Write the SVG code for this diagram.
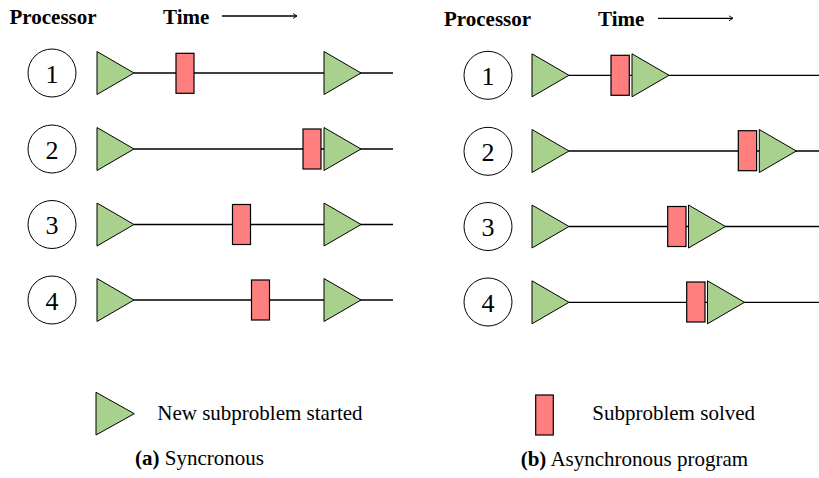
<svg xmlns="http://www.w3.org/2000/svg" width="819" height="478" viewBox="0 0 819 478">
<style>
.tri{fill:#A9D18E;stroke:#000;stroke-width:1;stroke-linejoin:miter}
.box{fill:#FF7F7F;stroke:#000;stroke-width:1.2}
.circ{fill:#fff;stroke:#000;stroke-width:1}
.ln{stroke:#000;stroke-width:1.3;fill:none}
.hd{font-family:"Liberation Serif","Times New Roman",serif;font-weight:bold;font-size:21px;fill:#000}
.num{font-family:"Liberation Serif","Times New Roman",serif;font-size:26px;fill:#000;text-anchor:middle}
.lg{font-family:"Liberation Serif","Times New Roman",serif;font-size:21px;fill:#000}
</style>
<defs>
<polygon id="t" points="0,-21.5 37,0 0,21.5" class="tri"/>
<marker id="ah" markerWidth="8" markerHeight="8" refX="6" refY="4" orient="auto" markerUnits="userSpaceOnUse">
<path d="M2,1.5 L6,4 L2,6.5" fill="none" stroke="#000" stroke-width="0.9"/>
</marker>
</defs>
<rect width="819" height="478" fill="#fff"/>

<g id="headers">
<text class="hd" x="9.5" y="24">Processor</text>
<text class="hd" x="163" y="24">Time</text>
<line class="ln" x1="222" y1="16" x2="297" y2="16" stroke-width="1" marker-end="url(#ah)"/>
<text class="hd" x="444" y="26">Processor</text>
<text class="hd" x="598" y="26">Time</text>
<line class="ln" x1="658" y1="18.3" x2="733" y2="18.3" stroke-width="1" marker-end="url(#ah)"/>
</g>

<g id="connectors">
<line class="ln" x1="134" y1="73" x2="393" y2="73"/>
<line class="ln" x1="134" y1="149" x2="393" y2="149"/>
<line class="ln" x1="134" y1="224.5" x2="393" y2="224.5"/>
<line class="ln" x1="134" y1="300" x2="393" y2="300"/>
<line class="ln" x1="569" y1="75.3" x2="819" y2="75.3"/>
<line class="ln" x1="569" y1="151" x2="819" y2="151"/>
<line class="ln" x1="569" y1="226.5" x2="819" y2="226.5"/>
<line class="ln" x1="569" y1="302.3" x2="819" y2="302.3"/>
</g>

<g id="a-row1">
<circle class="circ" cx="52" cy="73" r="24"/><text class="num" x="52" y="82.5">1</text>
<use href="#t" x="97" y="73"/>
<rect class="box" x="176" y="53.3" width="18" height="40"/>
<use href="#t" x="324" y="73"/>
</g>
<g id="a-row2">
<circle class="circ" cx="52" cy="149" r="24"/><text class="num" x="52" y="158.5">2</text>
<use href="#t" x="97" y="149"/>
<rect class="box" x="303" y="129" width="18" height="40"/>
<use href="#t" x="324" y="149"/>
</g>
<g id="a-row3">
<circle class="circ" cx="52" cy="224.5" r="24"/><text class="num" x="52" y="234">3</text>
<use href="#t" x="97" y="224.5"/>
<rect class="box" x="232.5" y="204.5" width="18" height="40"/>
<use href="#t" x="324" y="224.5"/>
</g>
<g id="a-row4">
<circle class="circ" cx="52" cy="300" r="24"/><text class="num" x="52" y="309.5">4</text>
<use href="#t" x="97" y="300"/>
<rect class="box" x="251.5" y="280" width="18" height="40"/>
<use href="#t" x="324" y="300"/>
</g>

<g id="b-row1">
<circle class="circ" cx="488" cy="75.3" r="24"/><text class="num" x="488" y="84.8">1</text>
<use href="#t" x="532" y="75.3"/>
<rect class="box" x="611" y="55.3" width="18.3" height="40"/>
<use href="#t" x="632" y="75.3"/>
</g>
<g id="b-row2">
<circle class="circ" cx="488" cy="151.3" r="24"/><text class="num" x="488" y="160.8">2</text>
<use href="#t" x="532" y="151"/>
<rect class="box" x="738.3" y="130.7" width="18.3" height="40"/>
<use href="#t" x="759.3" y="151"/>
</g>
<g id="b-row3">
<circle class="circ" cx="488" cy="226.5" r="24"/><text class="num" x="488" y="236">3</text>
<use href="#t" x="532" y="226.5"/>
<rect class="box" x="667.7" y="206.5" width="18.3" height="40"/>
<use href="#t" x="688.5" y="226.5"/>
</g>
<g id="b-row4">
<circle class="circ" cx="488" cy="302" r="24"/><text class="num" x="488" y="311.5">4</text>
<use href="#t" x="532" y="302.3"/>
<rect class="box" x="686.7" y="282" width="18.3" height="40"/>
<use href="#t" x="707.5" y="302.3"/>
</g>

<g id="legend">
<polygon class="tri" points="96,392.3 134.3,413.7 96,435"/>
<text class="lg" x="157.3" y="419.5">New subproblem started</text>
<rect class="box" x="535.7" y="395" width="17.6" height="40"/>
<text class="lg" x="592.3" y="420">Subproblem solved</text>
</g>

<g id="captions">
<text class="lg" x="135" y="465"><tspan font-weight="bold">(a)</tspan> Syncronous</text>
<text class="lg" x="520.7" y="466"><tspan font-weight="bold">(b)</tspan> Asynchronous program</text>
</g>
</svg>
